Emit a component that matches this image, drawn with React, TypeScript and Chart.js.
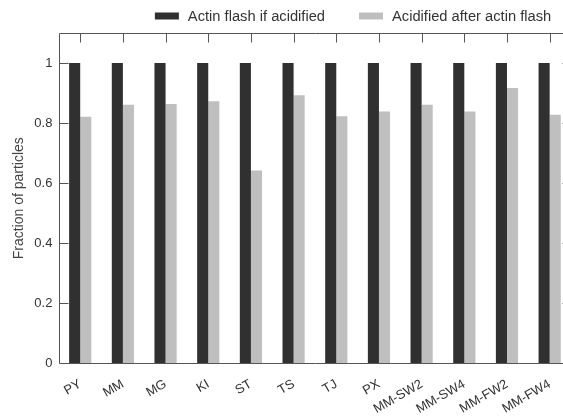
import React, { useEffect, useRef } from "react";
import { Chart, registerables } from "chart.js";

Chart.register(...registerables);

const categories = ["PY", "MM", "MG", "KI", "ST", "TS", "TJ", "PX", "MM-SW2", "MM-SW4", "MM-FW2", "MM-FW4"];
const actinFlashIfAcidified = [1, 1, 1, 1, 1, 1, 1, 1, 1, 1, 1, 1];
const acidifiedAfterActinFlash = [0.821, 0.861, 0.864, 0.873, 0.642, 0.893, 0.823, 0.839, 0.861, 0.839, 0.917, 0.828];
const seriesLabels = ["Actin flash if acidified", "Acidified after actin flash"];
const yTickValues = [0.2, 0.4, 0.6, 0.8, 1];

const DARK = "#303030";
const LIGHT = "#bfbfbf";
const FRAME = "#555555";
const TEXT = "#333333";
const FONT = "'Liberation Sans', Arial, Helvetica, sans-serif";

const framePlugin = {
  id: "frameTicks",
  afterDraw(chart: any) {
    const { ctx, chartArea } = chart;
    const { left, right, top, bottom } = chartArea;
    const xs = chart.scales.x;
    const ys = chart.scales.y;
    const tl = 9;
    ctx.save();
    ctx.strokeStyle = FRAME;
    ctx.lineWidth = 1;
    ctx.beginPath();
    const L = Math.round(left) + 0.5;
    const R = Math.round(right) + 0.5;
    const T = Math.round(top) + 0.5;
    const B = Math.round(bottom) + 0.5;
    ctx.moveTo(L, T);
    ctx.lineTo(R, T);
    ctx.lineTo(R, B);
    ctx.lineTo(L, B);
    ctx.closePath();
    categories.forEach((_, i) => {
      const x = Math.round(xs.getPixelForValue(i)) + 0.5;
      ctx.moveTo(x, T);
      ctx.lineTo(x, T + tl);
    });
    yTickValues.forEach((v) => {
      const y = Math.round(ys.getPixelForValue(v)) + 0.5;
      ctx.moveTo(L, y);
      ctx.lineTo(L + tl, y);
      ctx.moveTo(R, y);
      ctx.lineTo(R - tl, y);
    });
    ctx.stroke();

    // legend
    const colors = [DARK, LIGHT];
    ctx.font = `14.7px ${FONT}`;
    ctx.textBaseline = "middle";
    ctx.fillStyle = TEXT;
    let x = left + 96;
    const yMid = 16;
    seriesLabels.forEach((lab, i) => {
      ctx.fillStyle = colors[i];
      ctx.fillRect(x, yMid - 3.5, 24, 7);
      x += 24 + 9;
      ctx.fillStyle = TEXT;
      ctx.fillText(lab, x, yMid + 1);
      x += ctx.measureText(lab).width + 34;
    });
    ctx.restore();
  },
};

export default function App() {
  const ref = useRef<HTMLCanvasElement>(null);
  useEffect(() => {
    if (!ref.current) return;
    const chart = new Chart(ref.current, {
      type: "bar",
      data: {
        labels: categories,
        datasets: [
          { label: seriesLabels[0], data: actinFlashIfAcidified, backgroundColor: DARK, borderWidth: 0 },
          { label: seriesLabels[1], data: acidifiedAfterActinFlash, backgroundColor: LIGHT, borderWidth: 0 },
        ],
      },
      options: {
        animation: false,
        responsive: true,
        maintainAspectRatio: false,
        layout: { padding: { top: 33, left: 11, right: 3, bottom: 0 } },
        plugins: { legend: { display: false }, tooltip: { enabled: false } },
        datasets: { bar: { categoryPercentage: 0.52, barPercentage: 1 } },
        scales: {
          x: {
            grid: { display: false, drawTicks: false },
            border: { display: false },
            ticks: {
              maxRotation: 30,
              minRotation: 30,
              padding: 13,
              color: TEXT,
              font: { size: 13, family: FONT },
            },
          },
          y: {
            min: 0,
            max: 1.1,
            grid: { display: false, drawTicks: false },
            border: { display: false },
            ticks: {
              stepSize: 0.2,
              includeBounds: false,
              padding: 6.5,
              color: TEXT,
              font: { size: 13, family: FONT },
              callback: (v: any) => String(Math.round(Number(v) * 10) / 10),
            },
            title: {
              display: true,
              text: "Fraction of particles",
              color: "#444",
              font: { size: 14, family: FONT },
              padding: { top: 0, bottom: 0 },
            },
          },
        },
      },
      plugins: [framePlugin],
    });
    return () => chart.destroy();
  }, []);
  return (
    <div style={{ position: "absolute", left: 0, top: 0, width: 563, height: 416, overflow: "hidden", background: "#fff" }}>
      <div style={{ position: "relative", width: 574, height: 430 }}>
        <canvas ref={ref} />
      </div>
    </div>
  );
}
